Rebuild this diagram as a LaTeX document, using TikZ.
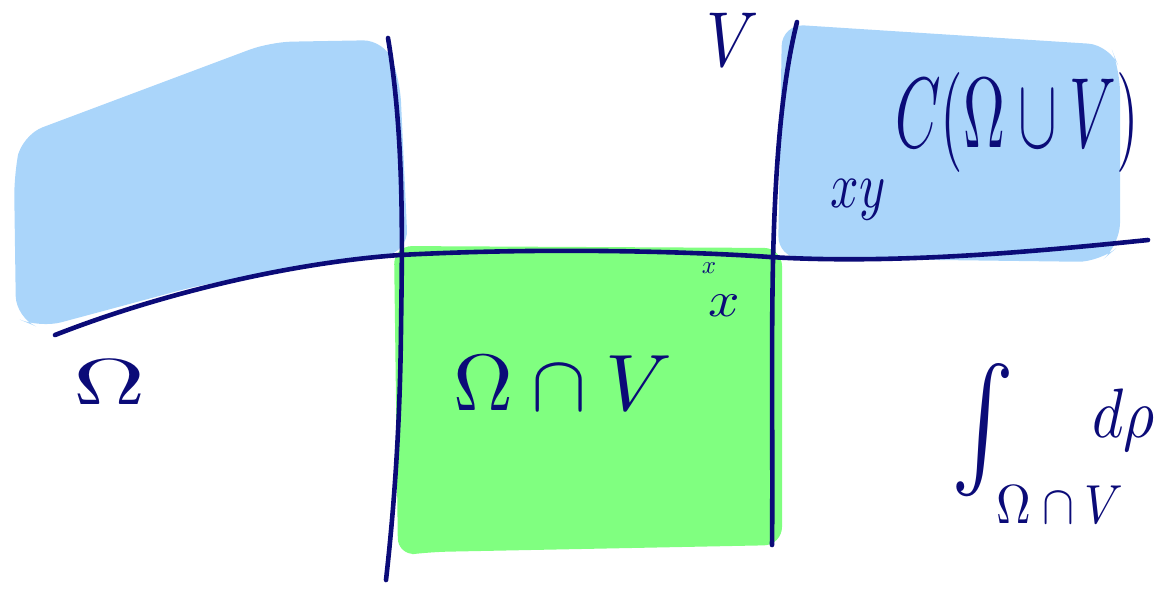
\documentclass[tikz,border=0pt]{standalone}
\begin{document}
\begin{tikzpicture}[x=1pt,y=-1pt,
  ink/.style={draw=inkc,line width=4.6pt,line cap=round,line join=round},
  hand/.style={text=inkc,inner sep=0pt,anchor=center},
  blueblob/.style={fill=bluec,rounded corners=22pt},
  greenblob/.style={fill=greenc,rounded corners=18pt}]
\definecolor{inkc}{HTML}{0B0B78}
\definecolor{bluec}{HTML}{AAD5FA}
\definecolor{greenc}{HTML}{80FF80}
\useasboundingbox (0,0) rectangle (1158,590);
\clip (0,0) rectangle (1158,590);
% regions
\path[blueblob] (14,175) -- (22,135) -- (270,42) -- (385,40) -- (400,80) -- (408,252) -- (200,285) -- (40,328) -- (16,318) -- cycle;
\path[blueblob] (782,24) -- (1110,45) -- (1120,70) -- (1120,245) -- (1100,262) -- (778,258) -- cycle;
\path[greenblob] (394,246) -- (782,248) -- (782,545) -- (430,552) -- (398,556) -- cycle;
% lines
\draw[ink] (55,335) .. controls (170,290) and (300,262) .. (400,255) .. controls (550,247) and (700,252) .. (770,257) .. controls (900,265) and (1050,250) .. (1148,240);
\draw[ink] (388,38) .. controls (405,140) and (402,250) .. (401,330) .. controls (400,420) and (395,500) .. (386,580);
\draw[ink] (797,22) .. controls (780,90) and (775,180) .. (773,260) .. controls (771,360) and (773,460) .. (772,545);
% labels
\node[hand] (vlab) at (733,40) {\scalebox{6.5}[7.8]{$V$}};
\node[hand] (cunion) at (1017,122) {\scalebox{5.8}[10]{$C(\Omega\cup V)$}};
\node[hand] (xy) at (858,200) {\scalebox{5}[6.5]{$xy$}};
\node[hand] (omega) at (110,382) {\scalebox{10}[6.5]{$\Omega$}};
\node[hand] (cap) at (563,383) {\scalebox{8.3}[8]{$\Omega\cap V$}};
\node[hand] (x1) at (709,268) {\scalebox{2.5}{$x$}};
\node[hand] (x2) at (724,306) {\scalebox{5.5}[5]{$x$}};
\node[hand] (intg) at (983,430) {\scalebox{9.5}[12]{$\int$}};
\node[hand] (intsub) at (1060,505) {\scalebox{4.8}[5.5]{$\Omega\cap V$}};
\node[hand,anchor=west] (drho) at (1092,420) {\scalebox{6}[7]{$d\rho($}};
\end{tikzpicture}
\end{document}
